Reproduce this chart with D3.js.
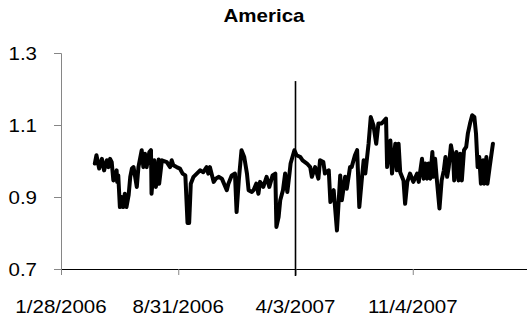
<!DOCTYPE html>
<html>
<head>
<meta charset="utf-8">
<script src="https://cdn.jsdelivr.net/npm/d3@7"></script>
<style>
body { margin: 0; background: #fff; }
svg { display: block; }
text { font-family: Arial, "Liberation Sans", sans-serif; fill: #000; }
</style>
</head>
<body>
<div id="chart"></div>
<script>
let dates = [
  "2006-03-31","2006-04-03","2006-04-08","2006-04-13","2006-04-17","2006-04-22","2006-04-25","2006-04-28",
  "2006-05-01","2006-05-04","2006-05-07","2006-05-10","2006-05-11","2006-05-13","2006-05-16","2006-05-19",
  "2006-05-22","2006-05-25","2006-05-28","2006-06-01","2006-06-04","2006-06-07","2006-06-10","2006-06-16",
  "2006-06-19","2006-06-25","2006-06-28","2006-07-01","2006-07-04","2006-07-09","2006-07-12","2006-07-13",
  "2006-07-18","2006-07-21","2006-07-26","2006-07-27","2006-08-01","2006-08-10","2006-08-16","2006-08-19",
  "2006-08-22","2006-08-28","2006-09-03","2006-09-08","2006-09-13","2006-09-14","2006-09-17","2006-09-20",
  "2006-09-23","2006-09-28","2006-10-04","2006-10-10","2006-10-16","2006-10-22","2006-10-25","2006-10-28",
  "2006-11-04","2006-11-08","2006-11-13","2006-11-19","2006-11-28","2006-12-01","2006-12-07","2006-12-13",
  "2006-12-16","2006-12-20","2006-12-25","2006-12-30","2007-01-04","2007-01-07","2007-01-13","2007-01-16",
  "2007-01-21","2007-01-25","2007-01-28","2007-02-03","2007-02-09","2007-02-14","2007-02-20","2007-02-25",
  "2007-02-27","2007-03-03","2007-03-06","2007-03-11","2007-03-15","2007-03-19","2007-03-23","2007-03-25",
  "2007-04-01","2007-04-05","2007-04-12","2007-04-16","2007-04-24","2007-04-30","2007-05-03","2007-05-09",
  "2007-05-15","2007-05-18","2007-05-24","2007-05-27","2007-06-03","2007-06-06","2007-06-12","2007-06-18",
  "2007-06-24","2007-06-27","2007-07-03","2007-07-06","2007-07-12","2007-07-15","2007-07-21","2007-07-25",
  "2007-07-29","2007-08-03","2007-08-06","2007-08-09","2007-08-15","2007-08-19","2007-08-24","2007-08-29",
  "2007-09-02","2007-09-08","2007-09-16","2007-09-18","2007-09-24","2007-09-27","2007-10-03","2007-10-06",
  "2007-10-09","2007-10-12","2007-10-18","2007-10-21","2007-10-25","2007-10-30","2007-11-05","2007-11-12",
  "2007-11-15","2007-11-21","2007-11-24","2007-11-27","2007-11-30","2007-12-03","2007-12-06","2007-12-10",
  "2007-12-12","2007-12-15","2007-12-18","2007-12-23","2007-12-27","2007-12-31","2008-01-03","2008-01-06",
  "2008-01-09","2008-01-13","2008-01-17","2008-01-19","2008-01-23","2008-01-27","2008-01-30","2008-02-02",
  "2008-02-06","2008-02-10","2008-02-13","2008-02-17","2008-02-21","2008-02-25","2008-02-28","2008-03-02",
  "2008-03-05","2008-03-08","2008-03-12","2008-03-14","2008-03-18","2008-03-20","2008-03-24","2008-03-30"
];
let values = [
  0.993,1.016,0.979,1.006,0.974,1.002,0.983,1.006,
  0.997,0.946,0.951,0.974,0.942,0.960,0.872,0.900,
  0.872,0.909,0.872,0.905,0.956,0.979,0.983,0.928,
  0.983,1.030,0.983,1.020,0.983,1.025,1.030,0.909,
  1.002,0.928,1.004,0.937,1.002,0.997,0.983,1.002,
  0.988,0.983,0.979,0.965,0.960,0.928,0.828,0.828,
  0.937,0.956,0.965,0.974,0.969,0.983,0.965,0.983,
  0.942,0.951,0.956,0.951,0.919,0.937,0.960,0.965,
  0.858,0.946,1.030,1.011,0.965,0.919,0.914,0.919,
  0.937,0.909,0.942,0.928,0.956,0.928,0.960,0.965,
  0.817,0.844,0.891,0.919,0.965,0.914,0.965,0.993,
  1.030,1.016,1.011,1.002,0.993,0.983,0.956,0.983,
  0.951,1.002,0.997,0.965,0.974,0.886,0.919,0.807,
  0.960,0.891,0.956,0.923,0.983,0.983,1.016,1.030,
  0.872,0.956,1.002,0.965,1.048,1.122,1.099,1.048,
  1.104,1.104,1.118,0.983,1.057,0.965,1.048,0.974,
  1.048,0.969,0.946,0.881,0.942,0.965,0.942,0.965,
  0.942,1.006,0.951,0.993,0.951,0.993,0.951,1.025,
  0.956,1.006,0.951,0.868,0.946,0.974,1.011,0.956,
  0.983,1.044,1.011,0.946,1.025,0.946,1.020,0.946,
  1.030,1.039,1.076,1.104,1.127,1.122,1.076,0.983,
  1.011,0.937,1.002,0.937,1.011,0.937,0.983,1.048
];
let yTicks = [0.7, 0.9, 1.1, 1.3];
let xTickDates = ["2006-01-28", "2006-08-31", "2007-04-03", "2007-11-04"];
let xTickLabels = ["1/28/2006", "8/31/2006", "4/3/2007", "11/4/2007"];
let xStart = "2006-01-28";
let xEnd = "2008-06-06";
let markerDate = "2007-04-03";
let markerTop = 1.222;
let title = "America";

let svgWidth = 527;
let svgHeight = 320;
let margin = { top: 53, right: -3, bottom: 51, left: 61 };
let width = svgWidth - margin.left - margin.right;
let height = svgHeight - margin.top - margin.bottom;
let stretch = 1.14;

let parse = d3.utcParse("%Y-%m-%d");
let series = dates.map((d, i) => ({ date: parse(d), value: values[i] }));

let x = d3.scaleUtc()
          .domain([parse(xStart), parse(xEnd)])
          .range([0, width]);
let y = d3.scaleLinear()
          .domain([0.7, 1.3])
          .range([height, 0]);

let svg = d3.select('#chart')
            .append('svg')
            .attr('width', svgWidth)
            .attr('height', svgHeight);

let chart = svg.append('g')
               .attr('transform', `translate(${margin.left},${margin.top})`);

// title
svg.append('text')
   .attr('transform', `translate(264,22) scale(${stretch},1)`)
   .attr('text-anchor', 'middle')
   .style('font-size', '18px')
   .style('font-weight', 'bold')
   .text(title);

// y axis (grey)
let yAxis = d3.axisLeft(y).tickValues(yTicks).tickSize(7).tickFormat('');
let yG = chart.append('g').call(yAxis);
yG.selectAll('path, line').attr('stroke', '#868686');

chart.selectAll('.ylab')
     .data(yTicks)
     .enter()
     .append('text')
     .attr('class', 'ylab')
     .attr('transform', d => `translate(-24,${y(d) + 6.5}) scale(${stretch},1)`)
     .attr('text-anchor', 'end')
     .style('font-size', '18px')
     .text(d => d3.format('.1f')(d));

// x axis (black line, grey ticks)
let xAxis = d3.axisBottom(x).tickValues(xTickDates.map(parse)).tickSize(6).tickFormat('');
let xG = chart.append('g')
              .attr('transform', `translate(0,${height})`)
              .call(xAxis);
xG.select('path').attr('stroke', '#000').attr('d', `M0,0.5H${width}`);
xG.selectAll('line').attr('stroke', '#868686');

chart.selectAll('.xlab')
     .data(xTickDates)
     .enter()
     .append('text')
     .attr('class', 'xlab')
     .attr('transform', d => `translate(${x(parse(d))},${height + 44}) scale(${stretch},1)`)
     .attr('text-anchor', 'middle')
     .style('font-size', '18px')
     .text((d, i) => xTickLabels[i]);

// event marker
chart.append('line')
     .attr('x1', x(parse(markerDate)))
     .attr('x2', x(parse(markerDate)))
     .attr('y1', y(markerTop))
     .attr('y2', height + 7)
     .attr('stroke', '#000')
     .attr('stroke-width', 1.6);

// series
let line = d3.line()
             .x(d => x(d.date))
             .y(d => y(d.value));

chart.append('path')
     .datum(series)
     .attr('fill', 'none')
     .attr('stroke', '#000')
     .attr('stroke-width', 4)
     .attr('stroke-linejoin', 'round')
     .attr('stroke-linecap', 'round')
     .attr('d', line);
</script>
</body>
</html>
